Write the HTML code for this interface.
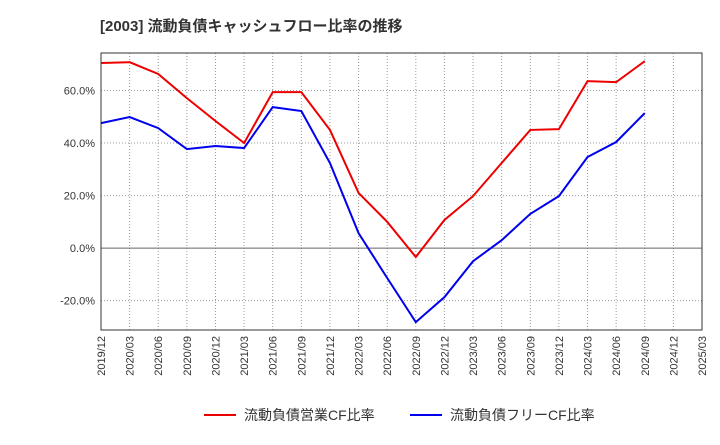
<!DOCTYPE html>
<html><head><meta charset="utf-8">
<style>
body{margin:0;background:#fff;font-family:"Liberation Sans","Noto Sans CJK JP",sans-serif;}
svg text{font-family:"Liberation Sans","Noto Sans CJK JP",sans-serif;}
</style></head>
<body>
<svg id="chart" width="720" height="440" xmlns="http://www.w3.org/2000/svg">
<text x="100" y="31" font-size="15" font-weight="bold" fill="#333">[2003]  流動負債キャッシュフロー比率の推移</text>
<g id="grid"></g><g id="axes"></g><g id="series"></g>
<g>
<line x1="204" y1="415" x2="236" y2="415" stroke="#e00" stroke-width="2"/>
<text x="244" y="420" font-size="14" fill="#333">流動負債営業CF比率</text>
<line x1="410" y1="415" x2="442" y2="415" stroke="#00e" stroke-width="2"/>
<text x="450" y="420" font-size="14" fill="#333">流動負債フリーCF比率</text>
</g>
</svg>
<script>
const categories=["2019/12","2020/03","2020/06","2020/09","2020/12","2021/03","2021/06","2021/09","2021/12","2022/03","2022/06","2022/09","2022/12","2023/03","2023/06","2023/09","2023/12","2024/03","2024/06","2024/09","2024/12","2025/03"];
const operatingCF=[70.5,70.8,66.3,57.1,48.4,40.0,59.4,59.4,45.0,21.0,10.0,-3.4,10.7,19.8,32.4,45.0,45.3,63.6,63.2,71.2];
const freeCF=[47.6,49.9,45.7,37.7,38.9,38.1,53.7,52.2,32.4,5.7,-11.4,-28.2,-18.7,-5.0,3.0,13.0,19.8,34.7,40.4,51.4];
const yTicks=[-20,0,20,40,60];
const L=101,R=702,T=53,B=330,yMin=-31.2,yMax=74.3;
const NS="http://www.w3.org/2000/svg";
function xs(i){return L+i*(R-L)/(categories.length-1);}
function ys(v){return B-(v-yMin)/(yMax-yMin)*(B-T);}
function mk(tag,attrs,parent){const e=document.createElementNS(NS,tag);for(const k in attrs)e.setAttribute(k,attrs[k]);document.getElementById(parent).appendChild(e);return e;}
const frame=mk('rect',{x:L,y:T,width:R-L,height:B-T,fill:'none',stroke:'#333','stroke-width':1},'axes');


categories.forEach((c,i)=>{
  const x=xs(i);
  const g=mk('line',{x1:x,y1:T,x2:x,y2:B,stroke:'#999','stroke-dasharray':'1,2'},'grid');
  
  
  const t=mk('text',{x:0,y:0,'font-size':11,fill:'#333','text-anchor':'end',transform:`translate(${x+4},${B+6}) rotate(-90)`},'axes');
  t.textContent=c;
  
  
});
yTicks.forEach(v=>{
  const y=ys(v);
  const g=mk('line',{x1:L,y1:y,x2:R,y2:y,stroke:v===0?'#666':'#999','stroke-dasharray':v===0?'none':'1,2'},'grid');
  
  
  const t=mk('text',{x:L-6,y:y+4,'font-size':11,fill:'#333','text-anchor':'end'},'axes');
  t.textContent=v.toFixed(1)+'%';
  
  
});
function line(data,color,name){
  const p=mk('polyline',{points:data.map((v,i)=>xs(i)+','+ys(v)).join(' '),fill:'none',stroke:color,'stroke-width':2},'series');
  
  
}
line(operatingCF,'#e00','operating-cf-line');
line(freeCF,'#00e','free-cf-line');
</script>
</body></html>
